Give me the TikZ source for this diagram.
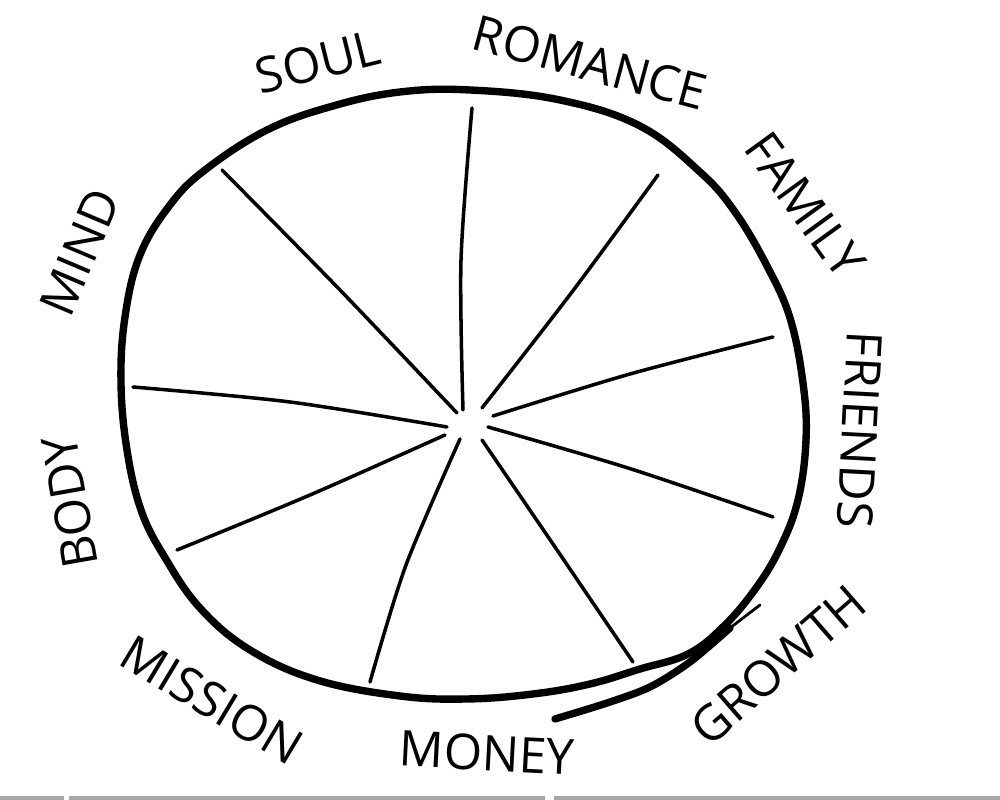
\documentclass[tikz,border=0pt]{standalone}
\usepackage{fontspec}
\usepackage{xcolor}
\newfontfamily\handfont{Open Sans}

\tikzset{
    rim/.style={line width=2.1pt, line cap=round, line join=round},
    spoke/.style={line width=1pt, line cap=round},
    area/.style={font=\handfont\fontsize{14}{14}\selectfont, inner sep=1pt}
}

\begin{document}
\begin{tikzpicture}[x=0.1mm, y=-0.1mm]
            \useasboundingbox (0,0) rectangle (1000,800);

            \draw[rim] plot[smooth cycle, tension=0.65] coordinates {
                (470,90) (560,100) (640,126) (700,172) (735,212) (767,266)
                (790,318) (803,383) (806,440) (798,500) (780,548) (756,588)
                (724,626) (688,654) (640,669) (590,684) (533,694) (467,699)
                (400,696) (317,680) (250,650) (200,608) (164,556) (141,510)
                (127,450) (121,383) (125,317) (140,255) (170,205) (205,170)
                (267,130) (333,106) (400,92)};
            \draw[rim] plot[smooth] coordinates {(555,719) (607,703) (650,687) (690,662) (730,628)};
            \draw[line width=0.8pt, line cap=round] (730,628) -- (760,605);

            \foreach \n/\hx/\hy/\mx/\my/\rx/\ry in {
                1/463/410/461/260/472/108,
                2/482/408/572/292/658/175,
                3/493/416/630/374/773/337,
                4/488/427/628/468/773/517,
                5/482/440/555/547/633/662,
                6/460/439/406/565/370/682,
                7/445/435/310/495/177/550,
                8/447/427/290/402/133/387,
                9/457/413/340/290/222/170} {
                \coordinate (hub\n) at (\hx,\hy);
                \coordinate (bend\n) at (\mx,\my);
                \coordinate (tip\n) at (\rx,\ry);
                \draw[spoke] plot[smooth] coordinates {(hub\n) (bend\n) (tip\n)};
            };

            \node[area, rotate=14] (soul) at (318,62) {SOUL};
            \node[area, rotate=-15] (romance) at (590,63) {ROMANCE};
            \node[area, rotate=-54] (family) at (805,205) {FAMILY};
            \node[area, rotate=-93] (friends) at (860,430) {FRIENDS};
            \node[area, rotate=41] (growth) at (778,665) {GROWTH};
            \node[area, rotate=-3] (money) at (487,753) {MONEY};
            \node[area, rotate=-31] (mission) at (212,700) {MISSION};
            \node[area, rotate=100] (body) at (70,502) {BODY};
            \node[area, rotate=67] (mind) at (80,252) {MIND};

            \fill[gray!70] (0,796) rectangle (64,800);
            \fill[gray!70] (69,796) rectangle (545,800);
            \fill[gray!70] (554,796) rectangle (1000,800);
        \end{tikzpicture}
\end{document}
